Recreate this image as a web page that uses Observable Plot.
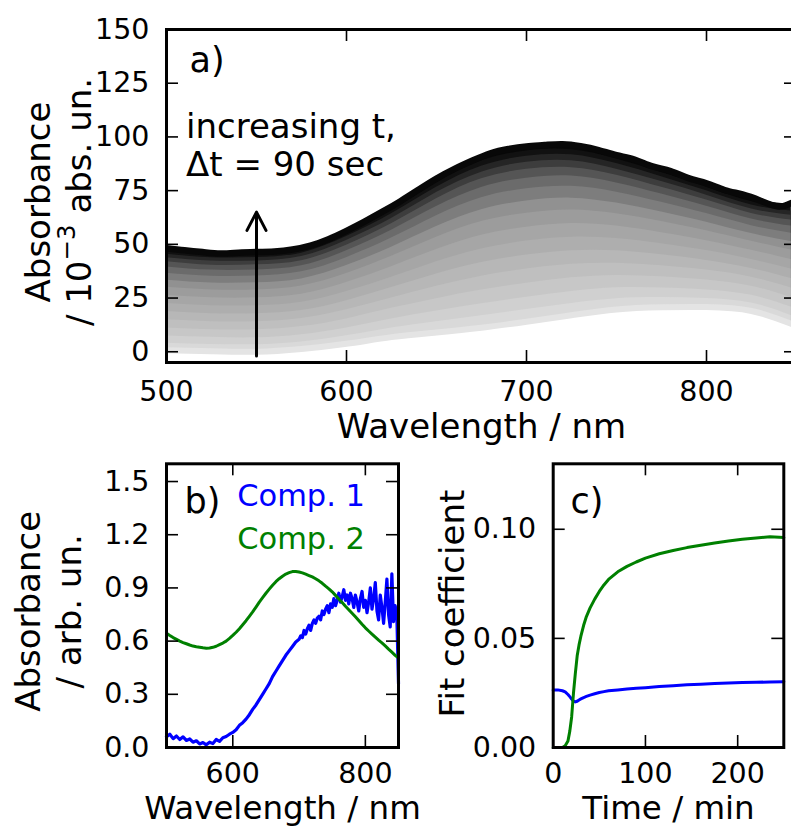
<!DOCTYPE html>
<html>
<head>
<meta charset="utf-8">
<script src="https://cdn.jsdelivr.net/npm/d3@7"></script>
<script src="https://cdn.jsdelivr.net/npm/@observablehq/plot@0.6"></script>
<style>
html, body { margin: 0; padding: 0; background: #fff; overflow: hidden; }
#fig { position: relative; width: 791px; height: 827px; overflow: hidden; font-family: "DejaVu Sans"; }
</style>
</head>
<body>
<div id="fig"></div>
<script>
// ---------- Panel a: time-resolved spectra (a subset of the spectra) ----------
const spectraWavelengths = [500, 525, 550, 575, 600, 625, 650, 675, 700, 725, 750, 775, 800, 825, 847];
const spectraTimes = [0, 12, 22.5, 33, 42, 51, 61.5, 70.5, 81, 94.5, 117, 136.5, 162, 189, 216, 238.5, 249];
const spectra = [
  [0.7, 0.2, 0, 1.3, 3.7, 6.8, 9, 11.2, 14, 17, 19.7, 20.7, 20.8, 19, 13],
  [4.0, 3.4, 3.3, 4.6, 7.4, 11.1, 14.0, 16.8, 19.7, 22.5, 24.7, 25.2, 24.8, 22.7, 16.9],
  [7.3, 6.7, 6.5, 7.9, 11.1, 15.3, 19.0, 22.3, 25.4, 28.1, 29.8, 29.7, 28.8, 26.3, 20.8],
  [11.1, 10.3, 10.2, 11.7, 15.3, 20.2, 24.7, 28.7, 31.9, 34.4, 35.5, 34.9, 33.4, 30.5, 25.2],
  [14.9, 14.0, 14.0, 15.5, 19.5, 25.0, 30.5, 35.1, 38.5, 40.7, 41.2, 40.0, 38.0, 34.7, 29.7],
  [18.7, 17.7, 17.7, 19.2, 23.8, 29.9, 36.2, 41.5, 45.0, 47.0, 47.0, 45.1, 42.5, 38.8, 34.1],
  [22.5, 21.4, 21.4, 23.0, 28.0, 34.7, 41.9, 47.8, 51.5, 53.3, 52.7, 50.3, 47.1, 43.0, 38.5],
  [26.2, 25.1, 25.1, 26.8, 32.2, 39.6, 47.6, 54.2, 58.0, 59.7, 58.5, 55.4, 51.7, 47.2, 43.0],
  [30.0, 28.8, 28.8, 30.6, 36.4, 44.4, 53.3, 60.6, 64.5, 66.0, 64.2, 60.6, 56.3, 51.4, 47.4],
  [33.3, 32.0, 32.1, 33.9, 40.1, 48.7, 58.3, 66.1, 70.2, 71.5, 69.2, 65.1, 60.3, 55.0, 51.3],
  [36.6, 35.2, 35.3, 37.2, 43.8, 52.9, 63.3, 71.7, 75.9, 77.0, 74.3, 69.6, 64.3, 58.7, 55.2],
  [39.5, 38.0, 38.1, 40.0, 47.0, 56.6, 67.6, 76.5, 80.8, 81.8, 78.6, 73.4, 67.7, 61.8, 58.5],
  [41.9, 40.3, 40.5, 42.4, 49.6, 59.6, 71.2, 80.5, 84.9, 85.7, 82.2, 76.6, 70.6, 64.4, 61.3],
  [43.7, 42.2, 42.3, 44.3, 51.8, 62.0, 74.1, 83.6, 88.2, 88.9, 85.0, 79.2, 72.9, 66.5, 63.5],
  [45.4, 43.8, 43.9, 45.9, 53.6, 64.2, 76.6, 86.4, 91.0, 91.7, 87.6, 81.5, 74.9, 68.3, 65.5],
  [46.8, 45.1, 45.3, 47.3, 55.2, 66.0, 78.7, 88.8, 93.5, 94.0, 89.7, 83.4, 76.6, 69.9, 67.1],
  [48.0, 46.3, 46.5, 48.5, 56.5, 67.5, 80.5, 90.8, 95.5, 96.0, 91.5, 85.0, 78.0, 71.2, 68.5]
];
// last spectrum at finer resolution
const finalWavelengths = [500, 510, 520, 530, 540, 550, 560, 570, 580, 590, 600, 610, 620, 630, 640, 650, 660, 670, 680, 690, 700, 710, 720, 730, 740, 750, 760, 770, 780, 790, 800, 810, 820, 830, 840, 847];
const finalSpectrum = [48.2, 47.2, 46.4, 45.7, 46.1, 46.4, 46.7, 47.6, 49.4, 52.4, 56.3, 60.6, 65.2, 70.1, 75.4, 80.6, 85.1, 89.0, 92.4, 94.4, 95.6, 96.2, 96.6, 95.7, 93.9, 91.5, 89.5, 86.3, 84.1, 80.8, 78.4, 75.3, 73.2, 70.3, 67.6, 69.2];
const finalTime = 249;
const arrowSpan = {wavelength: 550, from: -2, to: 65};
const xTicksA = [500, 600, 700, 800];
const yTicksA = [0, 25, 50, 75, 100, 125, 150];

// ---------- Panel b: component spectra ----------
const comp1Wavelengths = [500, 505, 510, 515, 520, 525, 530, 535, 540, 545, 550, 555, 560, 565, 570, 575, 580, 585, 590, 595,
  600, 605, 610, 615, 620, 625, 630, 635, 640, 645, 650, 655, 660, 665, 670, 675, 680, 685, 690, 695, 700,
  702.5, 705, 707.5, 710, 712.5, 715, 717.5, 720, 722.5, 725, 727.5, 730, 732.5, 735, 737.5, 740, 742.5, 745, 747.5, 750,
  752.5, 755, 757.5, 760, 762.5, 765, 767.5, 770, 772.5, 775, 777.5, 780, 782.5, 785, 787.5, 790, 792.5, 795, 797.5, 800,
  802.5, 805, 807.5, 810, 812.5, 815, 817.5, 820, 822.5, 825, 827.5, 830, 832.5, 835, 837.5, 840, 842.5, 845, 847.5, 850];
const comp1 = [0.06, 0.075, 0.05, 0.065, 0.045, 0.06, 0.04, 0.048, 0.03, 0.038, 0.02, 0.028, 0.015, 0.03, 0.022, 0.045, 0.035, 0.055, 0.062, 0.075,
  0.085, 0.1, 0.125, 0.14, 0.16, 0.185, 0.215, 0.24, 0.27, 0.3, 0.33, 0.36, 0.4, 0.43, 0.46, 0.49, 0.52, 0.545, 0.57, 0.595, 0.61,
  0.63, 0.62, 0.66, 0.64, 0.67, 0.69, 0.66, 0.7, 0.72, 0.7, 0.73, 0.74, 0.72, 0.77, 0.75, 0.78, 0.8, 0.76, 0.81, 0.79,
  0.84, 0.8, 0.83, 0.87, 0.82, 0.85, 0.89, 0.83, 0.86, 0.81, 0.87, 0.84, 0.79, 0.86, 0.82, 0.77, 0.84, 0.88, 0.79, 0.83,
  0.76, 0.82, 0.9, 0.78, 0.84, 0.93, 0.77, 0.72, 0.86, 0.79, 0.7, 0.82, 0.95, 0.75, 0.68, 0.98, 0.71, 0.8, 0.74, 0.36];
const comp2Wavelengths = [500, 505, 510, 515, 520, 525, 530, 535, 540, 545, 550, 555, 560, 565, 570, 575, 580, 585, 590, 595, 600, 605, 610, 615, 620, 625, 630, 635, 640, 645, 650, 655, 660, 665, 670, 675, 680, 685, 690, 695, 700, 705, 710, 715, 720, 725, 730, 735, 740, 745, 750, 755, 760, 765, 770, 775, 780, 785, 790, 795, 800, 805, 810, 815, 820, 825, 830, 835, 840, 845, 850];
const comp2 = [0.645, 0.632, 0.62, 0.61, 0.60, 0.592, 0.585, 0.578, 0.572, 0.568,
  0.565, 0.562, 0.56, 0.561, 0.565, 0.571, 0.58, 0.589, 0.60, 0.615,
  0.632, 0.65, 0.67, 0.692, 0.715, 0.74, 0.765, 0.792, 0.82, 0.845,
  0.87, 0.893, 0.915, 0.935, 0.952, 0.966, 0.978, 0.986, 0.992, 0.993,
  0.99, 0.985, 0.978, 0.97, 0.962, 0.952, 0.94, 0.926, 0.91, 0.895,
  0.878, 0.858, 0.838, 0.818, 0.797, 0.777, 0.757, 0.737, 0.716, 0.695,
  0.675, 0.657, 0.64, 0.623, 0.606, 0.59, 0.573, 0.555, 0.538, 0.52, 0.505];
const compNames = ["Comp. 1", "Comp. 2"];
const xTicksB = [600, 800];
const yTicksB = [0, 0.3, 0.6, 0.9, 1.2, 1.5];

// ---------- Panel c: fit coefficients ----------
const timesMin = [0, 5, 10, 13, 16, 18, 20, 22, 24, 26, 28, 30, 33, 36, 40, 45, 50, 55, 60, 70, 80, 90, 100, 115, 130, 145, 160, 175, 190, 205, 220, 235, 250];
const coef1 = [0.0263, 0.0264, 0.026, 0.0255, 0.0243, 0.0233, 0.0222, 0.0212, 0.0209, 0.0212, 0.0218, 0.0223, 0.0229, 0.0234, 0.024, 0.0246, 0.0252, 0.0256, 0.026, 0.0264, 0.0268, 0.0271, 0.0274, 0.0279, 0.0283, 0.0287, 0.029, 0.0293, 0.0296, 0.0298, 0.0299, 0.03, 0.0301];
const coef2 = [0, 0, 0, 0.0008, 0.003, 0.0075, 0.014, 0.025, 0.034, 0.042, 0.047, 0.051, 0.056, 0.06, 0.064, 0.068, 0.0715, 0.0745, 0.077, 0.0805, 0.083, 0.085, 0.0868, 0.0888, 0.0903, 0.0916, 0.0927, 0.0937, 0.0946, 0.0954, 0.096, 0.0966, 0.0962];
const xTicksC = [0, 100, 200];
const yTicksC = [0, 0.05, 0.10];

// ---------- drawing ----------
const BLUE = "#0000ff", GREEN = "#008000";
const TICK = 12, TICKFONT = 28.5, LABELFONT = 34;
const plotStyle = {fontFamily: "DejaVu Sans", background: "transparent", overflow: "visible", maxWidth: "none"};
const fig = document.getElementById("fig");
function place(node, left, top) {
  const d = document.createElement("div");
  d.style.cssText = `position:absolute;left:${left}px;top:${top}px;`;
  d.appendChild(node);
  fig.appendChild(d);
}
function boxTicks(xt, yt, pw, ph) {
  const s = {stroke: "black", strokeWidth: 1.6};
  return [
    Plot.tickX(xt, {x: d => d, insetTop: ph - TICK, ...s}),
    Plot.tickX(xt, {x: d => d, insetBottom: ph - TICK, ...s}),
    Plot.tickY(yt, {y: d => d, insetRight: pw - TICK, ...s}),
    Plot.tickY(yt, {y: d => d, insetLeft: pw - TICK, ...s})
  ];
}
function tickLabels(xt, yt, xf, yf, xdy) {
  return [
    Plot.text(xt, {x: d => d, text: xf, frameAnchor: "bottom", lineAnchor: "bottom", dy: xdy, fontSize: TICKFONT}),
    Plot.text(yt, {y: d => d, text: yf, frameAnchor: "left", textAnchor: "end", dx: -17, fontSize: TICKFONT})
  ];
}
const label = (t, o) => Plot.text([t], {fontSize: LABELFONT, ...o});

// turn "10⁻³" into a real raised superscript (kept as text)
function superscriptFix(svg) {
  const NS = "http://www.w3.org/2000/svg";
  svg.querySelectorAll("tspan, text").forEach(el => {
    if (el.children.length === 0 && el.textContent.includes("10⁻³")) {
      const [before, after] = el.textContent.split("⁻³");
      el.textContent = before;
      const sup = document.createElementNS(NS, "tspan");
      sup.setAttribute("font-size", "72%");
      sup.setAttribute("dy", "-0.62em");
      sup.textContent = "−3";
      const rest = document.createElementNS(NS, "tspan");
      rest.setAttribute("dy", "0.45em");
      rest.textContent = after;
      el.appendChild(sup);
      el.appendChild(rest);
    }
  });
}

// Panel a
{
  const W = 800, H = 440, mL = 166, mR = 4, mT = 29, mB = 78;
  const bands = [];
  for (let i = spectra.length - 1; i >= 1; --i) {
    spectraWavelengths.forEach((w, j) => bands.push({time: spectraTimes[i], wl: w, lo: spectra[0][j], hi: spectra[i][j]}));
  }
  const first = spectraWavelengths.map((w, j) => ({wl: w, a: spectra[0][j], time: spectraTimes[0]}));
  const last = finalWavelengths.map((w, j) => ({wl: w, a: finalSpectrum[j], time: finalTime}));
  const svg = Plot.plot({
    width: W, height: H, marginLeft: mL, marginRight: mR, marginTop: mT, marginBottom: mB,
    x: {domain: [500, 850], axis: null},
    y: {domain: [-5, 150], axis: null},
    color: {type: "linear", domain: [0, 249], range: ["#e4e4e4", "#080808"], interpolate: "rgb"},
    style: plotStyle,
    marks: [
      Plot.areaY(bands, {x: "wl", y1: "lo", y2: "hi", z: "time", fill: "time", curve: "natural", clip: true}),
      Plot.line(first, {x: "wl", y: "a", stroke: "time", strokeWidth: 6, curve: "natural", clip: true}),
      Plot.line(last, {x: "wl", y: "a", stroke: "time", strokeWidth: 6.5, curve: "natural", clip: true}),
      Plot.arrow([arrowSpan], {x1: "wavelength", x2: "wavelength", y1: "from", y2: "to", stroke: "black", strokeWidth: 3, headLength: 10.3, headAngle: 55}),
      ...boxTicks(xTicksA, yTicksA, W - mL - mR, H - mT - mB),
      Plot.frame({stroke: "black", strokeWidth: 3}),
      ...tickLabels(xTicksA, yTicksA, d => d3.format("d")(d), d => d3.format("d")(d), 38.3),
      label("a)", {frameAnchor: "top-left", textAnchor: "start", lineAnchor: "bottom", dx: 23, dy: 42.7, fontSize: 35}),
      label("increasing t,\nΔt = 90 sec", {frameAnchor: "top-left", textAnchor: "start", lineAnchor: "bottom", dx: 19.5, dy: 146, lineHeight: 1.11}),
      label("Absorbance\n/ 10⁻³ abs. un.", {frameAnchor: "left", rotate: -90, textAnchor: "middle", lineAnchor: "bottom", dx: -75.9, dy: 6, lineHeight: 1.18}),
      label("Wavelength / nm", {frameAnchor: "bottom", lineAnchor: "bottom", dy: 75.5})
    ]
  });
  superscriptFix(svg);
  place(svg, 0, 0);
}

// Panel b
{
  const W = 420, H = 387, mL = 166, mR = 22, mT = 23.3, mB = 80;
  const rows1 = comp1Wavelengths.map((w, i) => ({wl: w, v: comp1[i]}));
  const rows2 = comp2Wavelengths.map((w, i) => ({wl: w, v: comp2[i]}));
  const svg = Plot.plot({
    width: W, height: H, marginLeft: mL, marginRight: mR, marginTop: mT, marginBottom: mB,
    x: {domain: [500, 850], axis: null},
    y: {domain: [0, 1.6], axis: null},
    style: plotStyle,
    marks: [
      Plot.line(rows1, {x: "wl", y: "v", stroke: BLUE, strokeWidth: 3.2}),
      Plot.line(rows2, {x: "wl", y: "v", stroke: GREEN, strokeWidth: 3}),
      ...boxTicks(xTicksB, yTicksB, W - mL - mR, H - mT - mB),
      Plot.frame({stroke: "black", strokeWidth: 3}),
      ...tickLabels(xTicksB, yTicksB, d => d3.format("d")(d), d => d3.format(".1f")(d), 35),
      label("b)", {frameAnchor: "top-left", textAnchor: "start", lineAnchor: "bottom", dx: 18, dy: 48.7, fontSize: 35}),
      label(compNames[0], {frameAnchor: "top-left", textAnchor: "start", lineAnchor: "bottom", dx: 70.7, dy: 41.7, fontSize: 30.5, fill: BLUE}),
      label(compNames[1], {frameAnchor: "top-left", textAnchor: "start", lineAnchor: "bottom", dx: 70.7, dy: 84.7, fontSize: 30.5, fill: GREEN}),
      label("Absorbance\n/ arb. un.", {frameAnchor: "left", rotate: -90, textAnchor: "middle", lineAnchor: "bottom", dx: -85.9, dy: 5.7, lineHeight: 1.18}),
      label("Wavelength / nm", {frameAnchor: "bottom", lineAnchor: "bottom", dy: 71.5, fontSize: 32.5})
    ]
  });
  place(svg, 0, 440);
}

// Panel c
{
  const W = 371, H = 387, mL = 132.7, mR = 7.7, mT = 23.3, mB = 80;
  const rows = timesMin.map((t, i) => ({t, c1: coef1[i], c2: coef2[i]}));
  const svg = Plot.plot({
    width: W, height: H, marginLeft: mL, marginRight: mR, marginTop: mT, marginBottom: mB,
    x: {domain: [0, 250], axis: null},
    y: {domain: [0, 0.13], axis: null},
    style: plotStyle,
    marks: [
      Plot.line(rows, {x: "t", y: "c1", stroke: BLUE, strokeWidth: 3}),
      Plot.line(rows, {x: "t", y: "c2", stroke: GREEN, strokeWidth: 3}),
      ...boxTicks(xTicksC, yTicksC, W - mL - mR, H - mT - mB),
      Plot.frame({stroke: "black", strokeWidth: 3}),
      ...tickLabels(xTicksC, yTicksC, d => d3.format("d")(d), d => d3.format(".2f")(d), 35),
      label("c)", {frameAnchor: "top-left", textAnchor: "start", lineAnchor: "bottom", dx: 17.3, dy: 48.7, fontSize: 35}),
      label("Fit coefficient", {frameAnchor: "left", rotate: -90, textAnchor: "middle", lineAnchor: "bottom", dx: -89.4, dy: -2}),
      label("Time / min", {frameAnchor: "bottom", lineAnchor: "bottom", dy: 71.5, fontSize: 32.5})
    ]
  });
  place(svg, 420, 440);
}
</script>
</body>
</html>
